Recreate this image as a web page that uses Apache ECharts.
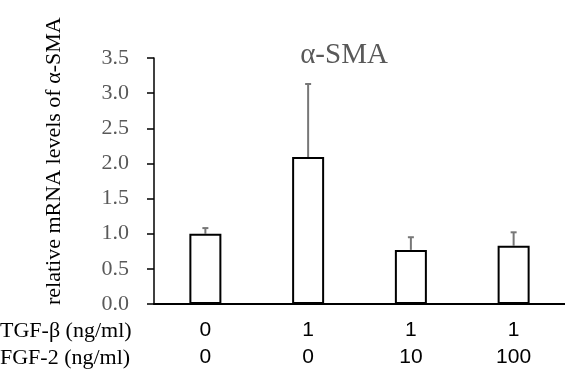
<!DOCTYPE html>
<html>
<head>
<meta charset="utf-8">
<script src="https://cdn.jsdelivr.net/npm/echarts@6/dist/echarts.min.js"></script>
<style>
  html, body { margin: 0; padding: 0; background: #fff; }
  #chart { width: 565px; height: 371px; }
</style>
</head>
<body>
<div id="chart"></div>
<script>
// data
var tgfLabels = ['0', '1', '1', '1'];
var fgfLabels = ['0', '0', '10', '100'];
var means = [1.0, 2.09, 0.77, 0.83];
var errTops = [1.08, 3.13, 0.95, 1.02];
var yTicks = { min: 0, max: 3.5, interval: 0.5 };

var categories = tgfLabels.map(function (t, i) { return t + '\n' + fgfLabels[i]; });
var errData = means.map(function (m, i) { return [i, m, errTops[i]]; });

var serif = '"Liberation Serif", "Times New Roman", serif';
var sans = '"Liberation Sans", Arial, sans-serif';

var myChart = echarts.init(document.getElementById('chart'));
var option = {
    animation: false,
    title: {
        text: 'α-SMA',
        left: 339,
        top: 36,
        textAlign: 'center',
        textStyle: { fontFamily: serif, fontSize: 29, fontWeight: 'normal', color: '#595959' }
    },
    grid: { left: 154, right: 0, top: 58, bottom: 66 },
    xAxis: {
        type: 'category',
        data: categories,
        axisLine: { lineStyle: { color: '#000', width: 2 } },
        axisTick: { show: false },
        axisLabel: {
            margin: 13,
            fontFamily: sans,
            fontSize: 21,
            lineHeight: 27,
            color: '#000'
        }
    },
    yAxis: {
        type: 'value',
        min: yTicks.min,
        max: yTicks.max,
        interval: yTicks.interval,
        splitLine: { show: false },
        axisLine: { show: true, lineStyle: { color: '#000', width: 1.5 } },
        axisTick: { show: true, length: 7, lineStyle: { color: '#000', width: 1.5 } },
        axisLabel: {
            margin: 25,
            fontFamily: serif,
            fontSize: 22,
            color: '#595959',
            formatter: function (v) { return v.toFixed(1); }
        }
    },
    graphic: [
        {
            type: 'text', x: 0, y: 331,
            style: { text: 'TGF-β (ng/ml)', font: '22px ' + serif, fill: '#000', textVerticalAlign: 'middle' }
        },
        {
            type: 'text', x: 0, y: 358,
            style: { text: 'FGF-2 (ng/ml)', font: '22px ' + serif, fill: '#000', textVerticalAlign: 'middle' }
        },
        {
            type: 'text', x: 54, y: 305, rotation: Math.PI / 2,
            style: {
                text: 'relative mRNA levels of α-SMA',
                font: '22px ' + serif, fill: '#000',
                textAlign: 'left', textVerticalAlign: 'middle'
            }
        }
    ],
    series: [
        {
            type: 'bar',
            data: means,
            barWidth: 32,
            itemStyle: { color: '#fff', borderColor: '#000', borderWidth: 2 },
            z: 3
        },
        {
            type: 'custom',
            data: errData,
            z: 2,
            renderItem: function (params, api) {
                var base = api.coord([api.value(0), api.value(1)]);
                var top = api.coord([api.value(0), api.value(2)]);
                var style = { stroke: '#777', lineWidth: 2 };
                return {
                    type: 'group',
                    children: [
                        { type: 'line', shape: { x1: base[0], y1: base[1], x2: top[0], y2: top[1] }, style: style },
                        { type: 'line', shape: { x1: top[0] - 3, y1: top[1], x2: top[0] + 3, y2: top[1] }, style: style }
                    ]
                };
            }
        }
    ]
};
myChart.setOption(option);

window.addEventListener('resize', function () {
    myChart.resize();
});
</script>
</body>
</html>
